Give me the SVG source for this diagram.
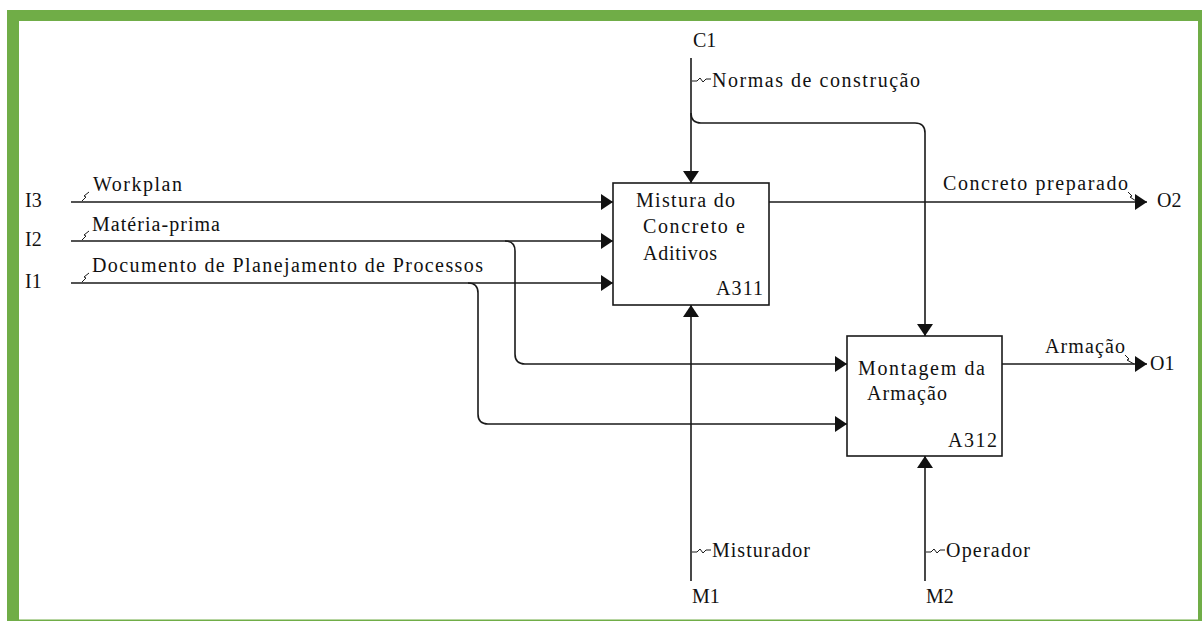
<svg xmlns="http://www.w3.org/2000/svg" width="1202" height="621" viewBox="0 0 1202 621">
  <style>
    text { font-family: "Liberation Serif", "Times New Roman", serif; font-size: 20px; fill: #111; }
    .box { fill: #fff; stroke: #1a1a1a; stroke-width: 1.6; }
    .arrow { fill: none; stroke: #1a1a1a; stroke-width: 1.6; }
    .tip { marker-end: url(#head); }
    .squig { fill: none; stroke: #1a1a1a; stroke-width: 1; }
  </style>
  <defs>
    <marker id="head" markerUnits="userSpaceOnUse" markerWidth="13" markerHeight="16" refX="12" refY="8" orient="auto">
      <path d="M0,0 L12,8 L0,16 z" fill="#111"/>
    </marker>
  </defs>

  <!-- frame -->
  <rect x="0" y="0" width="1202" height="621" fill="#fff"/>
  <rect x="7" y="10" width="1195" height="611" fill="#70ad47"/>
  <rect x="19" y="21" width="1179" height="598.5" fill="#fff"/>

  <!-- connectors -->
  <g id="connectors">
    <path class="arrow tip" d="M71,202 H613"/>
    <path class="arrow tip" d="M71,241 H613"/>
    <path class="arrow tip" d="M71,283 H613"/>
    <path class="arrow tip" d="M505,241 Q515,241 515,251 V354 Q515,364 525,364 H847"/>
    <path class="arrow tip" d="M468,283 Q478,283 478,293 V414 Q478,424 488,424 H847"/>
    <path class="arrow tip" d="M691,58 V183"/>
    <path class="arrow tip" d="M691,113 Q691,123 701,123 H915 Q925,123 925,133 V336"/>
    <path class="arrow tip" d="M691,581 V305"/>
    <path class="arrow tip" d="M925,581 V456"/>
    <path class="arrow tip" d="M769,202 H1147"/>
    <path class="arrow tip" d="M1002,364 H1147"/>

    <!-- label squiggles -->
    <path class="squig" d="M82,201 L86,197 L84,196 L89,192"/>
    <path class="squig" d="M82,240 L86,236 L84,235 L89,231"/>
    <path class="squig" d="M82,282 L86,278 L84,277 L89,273"/>
    <path class="squig" d="M692,81 L697,81 L700,78 L703,82 L706,79 L711,79"/>
    <path class="squig" d="M692,552 L697,552 L700,549 L703,553 L706,550 L711,550"/>
    <path class="squig" d="M926,552 L931,552 L934,549 L937,553 L940,550 L945,550"/>
    <path class="squig" d="M1128,192 L1132,196 L1130,197 L1136,201"/>
    <path class="squig" d="M1125,355 L1129,359 L1127,360 L1134,364"/>

    <!-- boundary labels -->
    <text x="25" y="207">I3</text>
    <text x="25" y="246">I2</text>
    <text x="25" y="288">I1</text>
    <text x="93" y="191" textLength="89">Workplan</text>
    <text x="92" y="231" textLength="128">Matéria-prima</text>
    <text x="92" y="272" textLength="391">Documento de Planejamento de Processos</text>
    <text x="693" y="47">C1</text>
    <text x="712" y="87" textLength="208">Normas de construção</text>
    <text x="943" y="190" textLength="185">Concreto preparado</text>
    <text x="1157" y="207">O2</text>
    <text x="1045" y="353" textLength="80">Armação</text>
    <text x="1150" y="370">O1</text>
    <text x="712" y="557" textLength="98">Misturador</text>
    <text x="946" y="557" textLength="84">Operador</text>
    <text x="692" y="603">M1</text>
    <text x="926" y="603">M2</text>
  </g>

  <!-- activity A311 -->
  <g id="A311">
    <rect class="box" x="613" y="183" width="156" height="122"/>
    <text x="636" y="207" textLength="99">Mistura do</text>
    <text x="643" y="233" textLength="102">Concreto e</text>
    <text x="643" y="260" textLength="74">Aditivos</text>
    <text x="716" y="295" textLength="47">A311</text>
  </g>

  <!-- activity A312 -->
  <g id="A312">
    <rect class="box" x="847" y="336" width="155" height="120"/>
    <text x="858" y="375" textLength="127">Montagem da</text>
    <text x="867" y="400" textLength="80">Armação</text>
    <text x="948" y="447" textLength="49">A312</text>
  </g>
</svg>
